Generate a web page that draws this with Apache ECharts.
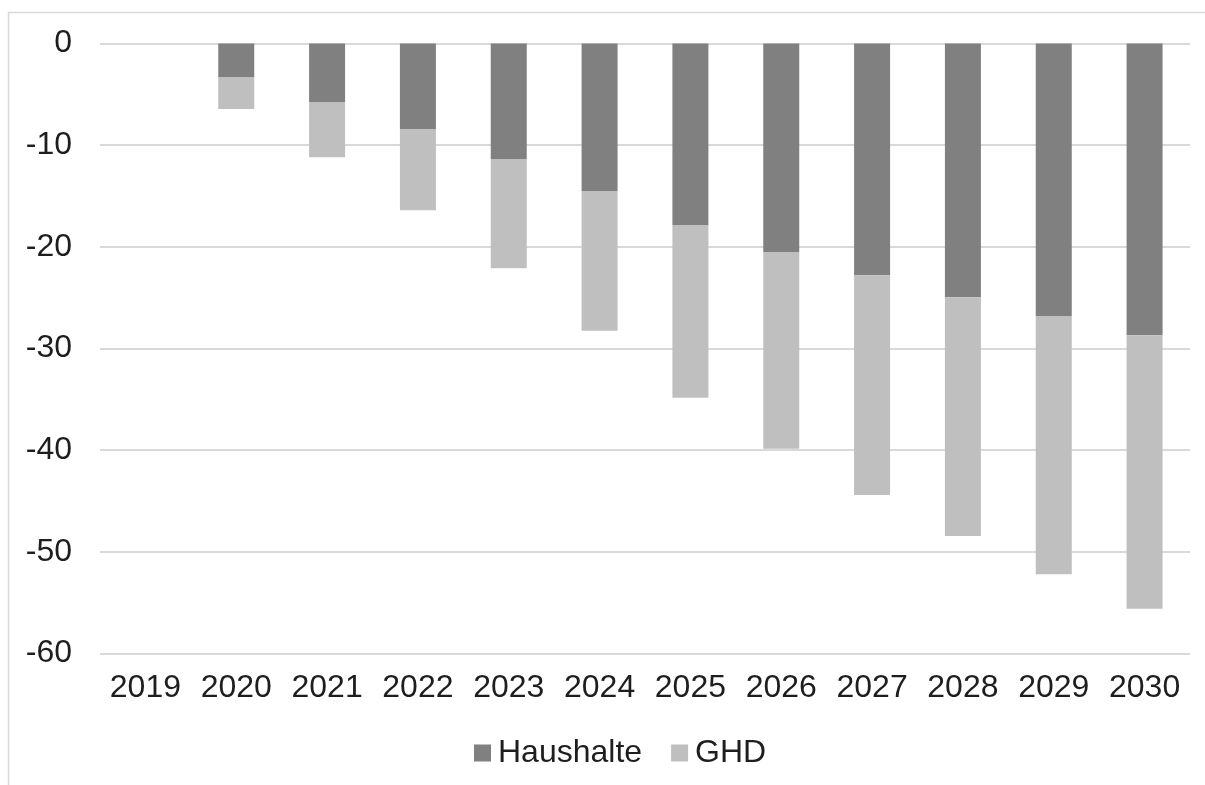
<!DOCTYPE html>
<html>
<head>
<meta charset="utf-8">
<script src="https://cdn.jsdelivr.net/npm/echarts@6/dist/echarts.min.js"></script>
<style>
  html, body { margin: 0; padding: 0; background: #fff; }
  #chart { width: 1205px; height: 785px; }
</style>
</head>
<body>
<div id="chart"></div>
<script>
// Years on the category axis
const years = ['2019', '2020', '2021', '2022', '2023', '2024', '2025', '2026', '2027', '2028', '2029', '2030'];
// Stacked components (negative values)
const haushalte = [0, -3.35, -5.75, -8.45, -11.35, -14.5, -17.9, -20.5, -22.8, -24.95, -26.85, -28.7];
const ghd = [0, -3.1, -5.45, -7.95, -10.75, -13.75, -16.95, -19.35, -21.6, -23.5, -25.35, -26.9];
const seriesNames = ['Haushalte', 'GHD'];

const FONT = '"Liberation Sans", Arial, sans-serif';
const chart = echarts.init(document.getElementById('chart'));

chart.setOption({
  animation: false,
  backgroundColor: '#fff',
  graphic: [{
    type: 'rect',
    shape: { x: 8.5, y: 12.5, width: 1400, height: 1000 },
    style: { fill: 'none', stroke: '#d9d9d9', lineWidth: 1.5 },
    silent: true
  }],
  grid: { left: 100, right: 15, top: 43.5, bottom: 131.5 },
  legend: {
    data: seriesNames,
    left: 469,
    top: 732,
    itemWidth: 17,
    itemHeight: 17,
    itemGap: 29,
    icon: 'rect',
    itemStyle: { borderWidth: 0 },
    textStyle: { fontFamily: FONT, fontSize: 32, color: '#1e1e1e', padding: [0, 0, 0, 2] }
  },
  xAxis: {
    type: 'category',
    data: years,
    axisLine: { show: false },
    axisTick: { show: false },
    axisLabel: { fontFamily: FONT, fontSize: 32, color: '#1e1e1e', margin: 19, interval: 0 }
  },
  yAxis: {
    type: 'value',
    min: -60,
    max: 0,
    interval: 10,
    axisLine: { show: false },
    axisTick: { show: false },
    axisLabel: { fontFamily: FONT, fontSize: 32, color: '#1e1e1e', margin: 28 },
    splitLine: { lineStyle: { color: '#d9d9d9', width: 2 } }
  },
  series: [
    {
      name: seriesNames[0],
      type: 'bar',
      stack: 'total',
      data: haushalte,
      barWidth: 36,
      itemStyle: { color: '#808080' }
    },
    {
      name: seriesNames[1],
      type: 'bar',
      stack: 'total',
      data: ghd,
      barWidth: 36,
      itemStyle: { color: '#bfbfbf' }
    }
  ]
});
</script>
</body>
</html>
